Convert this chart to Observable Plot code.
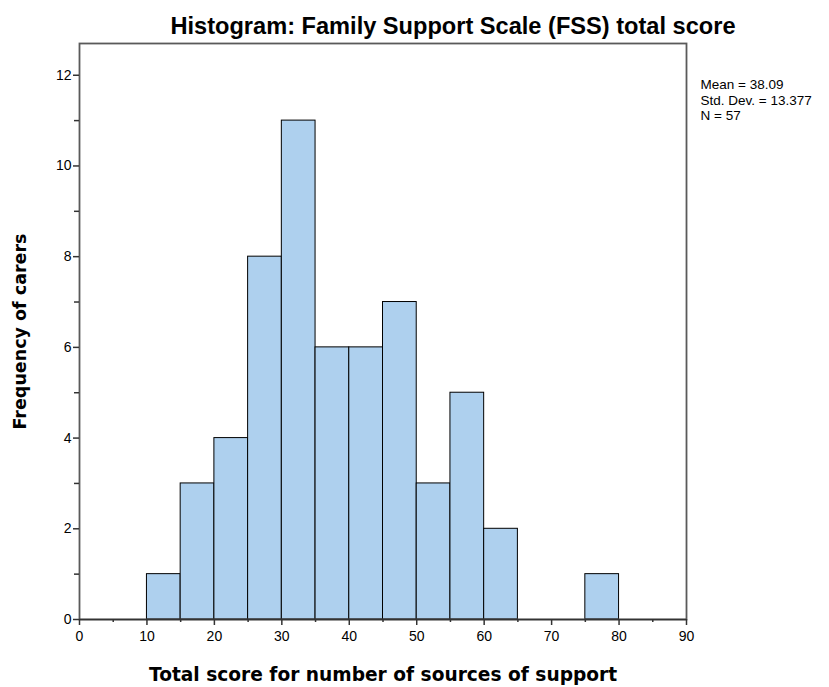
<!DOCTYPE html>
<html>
<head>
<meta charset="utf-8">
<script src="https://cdn.jsdelivr.net/npm/d3@7"></script>
<script src="https://cdn.jsdelivr.net/npm/@observablehq/plot@0.6"></script>
<style>
  html, body { margin: 0; padding: 0; background: #fff; }
  #chart svg { display: block; }
</style>
</head>
<body>
<div id="chart"></div>
<script>
const binStarts = [10, 15, 20, 25, 30, 35, 40, 45, 50, 55, 60, 75];
const binEnds   = [15, 20, 25, 30, 35, 40, 45, 50, 55, 60, 65, 80];
const counts    = [1, 3, 4, 8, 11, 6, 6, 7, 3, 5, 2, 1];
const xMajorTicks = [0, 10, 20, 30, 40, 50, 60, 70, 80, 90];
const xMinorTicks = [5, 15, 25, 35, 45, 55, 65, 75, 85];
const yMajorTicks = [0, 2, 4, 6, 8, 10, 12];
const yMinorTicks = [1, 3, 5, 7, 9, 11];
const titleText = "Histogram: Family Support Scale (FSS) total score";
const xLabel = "Total score for number of sources of support";
const yLabel = "Frequency of carers";
const statsLines = ["Mean = 38.09", "Std. Dev. = 13.377", "N = 57"];

const bins = binStarts.map((s, i) => ({x1: s, x2: binEnds[i], count: counts[i]}));

const font = "Liberation Sans, Arial, sans-serif";
const labelFont = "DejaVu Sans, Verdana, sans-serif";

const chart = Plot.plot({
  width: 829,
  height: 687,
  marginLeft: 79,
  marginRight: 143,
  marginTop: 43,
  marginBottom: 68,
  style: {fontFamily: font, background: "#fff", color: "#000"},
  x: {domain: [0, 90]},
  y: {domain: [0, 12.7]},
  marks: [
    Plot.rectY(bins, {x1: "x1", x2: "x2", y: "count", fill: "#aed0ee", stroke: "#000", strokeWidth: 1}),
    Plot.frame({stroke: "#5a5a5a", strokeWidth: 1.8}),
    Plot.ruleY([0], {stroke: "#333", strokeWidth: 1.6}),
    Plot.axisX({ticks: xMajorTicks, tickSize: 6, tickPadding: 6, fontSize: 14, label: null, stroke: "#333", strokeWidth: 1.5}),
    Plot.axisX({ticks: xMinorTicks, tickSize: 3, tickFormat: () => "", label: null, stroke: "#333", strokeWidth: 1.5}),
    Plot.axisY({ticks: yMajorTicks, tickSize: 6, tickPadding: 2, fontSize: 14, label: null, stroke: "#333", strokeWidth: 1.5}),
    Plot.axisY({ticks: yMinorTicks, tickSize: 5, tickFormat: () => "", label: null, stroke: "#333", strokeWidth: 1.5}),
    Plot.text([titleText], {frameAnchor: "top", dy: -17, lineAnchor: "middle", fontSize: 23.6, fontWeight: "bold", fill: "#000", textAnchor: "middle", dx: 70}),
    Plot.text([xLabel], {frameAnchor: "bottom", dy: 56, lineAnchor: "middle", textAnchor: "middle", fontSize: 18.6, fontWeight: "bold", fontFamily: labelFont, fill: "#000"}),
    Plot.text([yLabel], {frameAnchor: "left", dx: -59, rotate: -90, textAnchor: "middle", lineAnchor: "middle", fontSize: 17.5, fontWeight: "bold", fontFamily: labelFont, fill: "#000"}),
    Plot.text([statsLines.join("\n")], {frameAnchor: "top-right", dx: 14, dy: 34, textAnchor: "start", lineAnchor: "top", fontSize: 13.5, lineHeight: 1.17, fill: "#000"})
  ]
});
document.getElementById("chart").appendChild(chart);
</script>
</body>
</html>
